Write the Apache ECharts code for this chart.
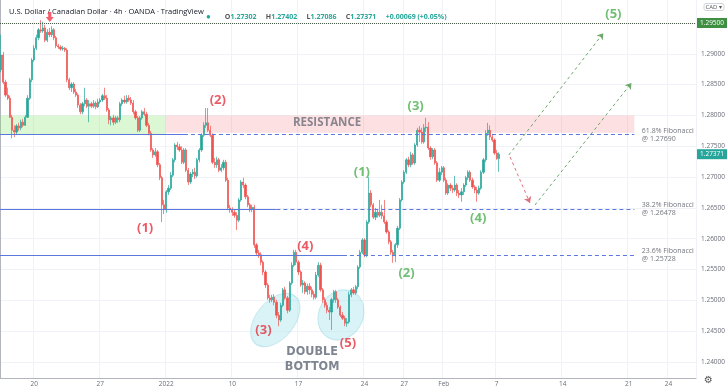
<!DOCTYPE html>
<html><head><meta charset="utf-8">
<script src="https://cdn.jsdelivr.net/npm/echarts@6/dist/echarts.min.js"></script>
<style>html,body{margin:0;padding:0;background:#fff}#c{width:728px;height:391px}</style>
</head><body><div id="c"></div>
<script>
// 4h candles: [open, close, low, high]
const ohlc = [
[1.2874,1.2898,1.2870,1.2931],[1.2898,1.2854,1.2851,1.2903],[1.2854,1.2833,1.2830,1.2858],[1.2833,1.2828,1.2825,1.2845],
[1.2828,1.2797,1.2796,1.2832],[1.2797,1.2776,1.2763,1.2801],[1.2776,1.2773,1.2765,1.2784],[1.2773,1.2783,1.2770,1.2786],
[1.2783,1.2780,1.2775,1.2788],[1.2780,1.2789,1.2776,1.2793],[1.2789,1.2784,1.2781,1.2794],[1.2784,1.2797,1.2783,1.2801],
[1.2797,1.2828,1.2796,1.2833],[1.2828,1.2858,1.2825,1.2861],[1.2858,1.2890,1.2854,1.2893],[1.2890,1.2909,1.2887,1.2914],
[1.2909,1.2926,1.2906,1.2931],[1.2926,1.2939,1.2922,1.2942],[1.2939,1.2937,1.2934,1.2955],[1.2937,1.2942,1.2934,1.2952],
[1.2942,1.2922,1.2919,1.2947],[1.2922,1.2935,1.2919,1.2940],[1.2935,1.2931,1.2927,1.2942],[1.2931,1.2939,1.2927,1.2945],
[1.2939,1.2926,1.2922,1.2942],[1.2926,1.2913,1.2909,1.2929],[1.2913,1.2911,1.2908,1.2916],[1.2911,1.2908,1.2905,1.2914],
[1.2908,1.2909,1.2905,1.2913],[1.2909,1.2906,1.2903,1.2911],[1.2906,1.2858,1.2854,1.2909],[1.2858,1.2845,1.2841,1.2861],
[1.2845,1.2851,1.2838,1.2854],[1.2851,1.2838,1.2835,1.2854],[1.2838,1.2833,1.2830,1.2843],[1.2833,1.2817,1.2812,1.2836],
[1.2817,1.2806,1.2802,1.2820],[1.2806,1.2819,1.2802,1.2822],[1.2819,1.2825,1.2815,1.2845],[1.2825,1.2815,1.2812,1.2828],
[1.2815,1.2819,1.2789,1.2825],[1.2819,1.2815,1.2812,1.2822],[1.2815,1.2820,1.2812,1.2825],[1.2820,1.2814,1.2810,1.2823],
[1.2814,1.2822,1.2812,1.2827],[1.2822,1.2825,1.2819,1.2828],[1.2825,1.2832,1.2822,1.2835],[1.2832,1.2828,1.2825,1.2845],
[1.2828,1.2809,1.2806,1.2833],[1.2809,1.2793,1.2786,1.2812],[1.2793,1.2796,1.2784,1.2799],[1.2796,1.2789,1.2784,1.2801],
[1.2789,1.2796,1.2786,1.2799],[1.2796,1.2793,1.2788,1.2799],[1.2793,1.2819,1.2789,1.2822],[1.2819,1.2825,1.2815,1.2828],
[1.2825,1.2822,1.2819,1.2832],[1.2822,1.2828,1.2819,1.2833],[1.2828,1.2825,1.2822,1.2833],[1.2825,1.2820,1.2817,1.2830],
[1.2820,1.2806,1.2802,1.2825],[1.2806,1.2796,1.2793,1.2809],[1.2796,1.2776,1.2773,1.2799],[1.2776,1.2796,1.2773,1.2799],
[1.2796,1.2806,1.2793,1.2809],[1.2806,1.2802,1.2799,1.2812],[1.2802,1.2784,1.2781,1.2806],[1.2784,1.2771,1.2768,1.2788],
[1.2771,1.2744,1.2741,1.2775],[1.2744,1.2736,1.2731,1.2747],[1.2736,1.2741,1.2733,1.2747],[1.2741,1.2720,1.2716,1.2744],
[1.2720,1.2699,1.2695,1.2723],[1.2699,1.2655,1.2627,1.2702],[1.2655,1.2647,1.2640,1.2663],[1.2647,1.2676,1.2642,1.2679],
[1.2676,1.2682,1.2671,1.2687],[1.2682,1.2703,1.2679,1.2708],[1.2703,1.2728,1.2700,1.2731],[1.2728,1.2752,1.2724,1.2755],
[1.2752,1.2749,1.2744,1.2757],[1.2749,1.2744,1.2741,1.2754],[1.2744,1.2724,1.2721,1.2750],[1.2724,1.2744,1.2721,1.2747],
[1.2744,1.2711,1.2708,1.2747],[1.2711,1.2692,1.2687,1.2715],[1.2692,1.2705,1.2689,1.2708],[1.2705,1.2708,1.2700,1.2713],
[1.2708,1.2702,1.2697,1.2715],[1.2702,1.2728,1.2699,1.2731],[1.2728,1.2744,1.2724,1.2747],[1.2744,1.2768,1.2741,1.2771],
[1.2768,1.2784,1.2765,1.2789],[1.2784,1.2788,1.2780,1.2812],[1.2788,1.2776,1.2773,1.2812],[1.2776,1.2768,1.2765,1.2783],
[1.2768,1.2724,1.2721,1.2771],[1.2724,1.2720,1.2715,1.2731],[1.2720,1.2728,1.2715,1.2733],[1.2728,1.2711,1.2708,1.2731],
[1.2711,1.2715,1.2708,1.2721],[1.2715,1.2724,1.2711,1.2728],[1.2724,1.2695,1.2692,1.2728],[1.2695,1.2650,1.2647,1.2699],
[1.2650,1.2647,1.2642,1.2655],[1.2647,1.2643,1.2637,1.2651],[1.2643,1.2638,1.2634,1.2648],[1.2638,1.2630,1.2614,1.2643],
[1.2630,1.2663,1.2627,1.2666],[1.2663,1.2692,1.2660,1.2695],[1.2692,1.2687,1.2682,1.2699],[1.2687,1.2668,1.2664,1.2690],
[1.2668,1.2655,1.2651,1.2671],[1.2655,1.2647,1.2643,1.2658],[1.2647,1.2651,1.2643,1.2655],[1.2651,1.2590,1.2585,1.2655],
[1.2590,1.2577,1.2572,1.2593],[1.2577,1.2574,1.2569,1.2582],[1.2574,1.2562,1.2557,1.2578],[1.2562,1.2546,1.2541,1.2565],
[1.2546,1.2525,1.2520,1.2549],[1.2525,1.2504,1.2501,1.2528],[1.2504,1.2501,1.2496,1.2509],[1.2501,1.2505,1.2497,1.2509],
[1.2505,1.2497,1.2492,1.2510],[1.2497,1.2476,1.2471,1.2501],[1.2476,1.2468,1.2458,1.2481],[1.2468,1.2492,1.2465,1.2496],
[1.2492,1.2517,1.2489,1.2520],[1.2517,1.2504,1.2501,1.2522],[1.2504,1.2484,1.2479,1.2507],[1.2484,1.2528,1.2481,1.2531],
[1.2528,1.2557,1.2525,1.2562],[1.2557,1.2578,1.2554,1.2582],[1.2578,1.2562,1.2557,1.2582],[1.2562,1.2546,1.2541,1.2565],
[1.2546,1.2525,1.2522,1.2549],[1.2525,1.2528,1.2512,1.2533],[1.2528,1.2514,1.2510,1.2531],[1.2514,1.2523,1.2509,1.2527],
[1.2523,1.2517,1.2510,1.2528],[1.2517,1.2510,1.2505,1.2522],[1.2510,1.2505,1.2501,1.2515],[1.2505,1.2541,1.2502,1.2546],
[1.2541,1.2557,1.2538,1.2562],[1.2557,1.2517,1.2514,1.2561],[1.2517,1.2501,1.2496,1.2520],[1.2501,1.2492,1.2488,1.2505],
[1.2492,1.2484,1.2479,1.2497],[1.2484,1.2481,1.2468,1.2489],[1.2481,1.2501,1.2452,1.2504],[1.2501,1.2514,1.2496,1.2517],
[1.2514,1.2501,1.2496,1.2517],[1.2501,1.2489,1.2486,1.2504],[1.2489,1.2476,1.2473,1.2492],[1.2476,1.2471,1.2468,1.2481],
[1.2471,1.2463,1.2458,1.2475],[1.2463,1.2465,1.2457,1.2471],[1.2465,1.2509,1.2462,1.2514],[1.2509,1.2517,1.2505,1.2520],
[1.2517,1.2512,1.2509,1.2522],[1.2512,1.2522,1.2509,1.2525],[1.2522,1.2554,1.2518,1.2557],[1.2554,1.2578,1.2551,1.2582],
[1.2578,1.2598,1.2575,1.2601],[1.2598,1.2574,1.2570,1.2601],[1.2574,1.2627,1.2570,1.2630],[1.2627,1.2674,1.2624,1.2700],
[1.2674,1.2655,1.2651,1.2679],[1.2655,1.2635,1.2632,1.2658],[1.2635,1.2643,1.2630,1.2650],[1.2643,1.2638,1.2634,1.2647],
[1.2638,1.2643,1.2635,1.2663],[1.2643,1.2637,1.2632,1.2655],[1.2637,1.2627,1.2624,1.2663],[1.2627,1.2611,1.2608,1.2630],
[1.2611,1.2595,1.2591,1.2614],[1.2595,1.2578,1.2574,1.2598],[1.2578,1.2574,1.2561,1.2582],[1.2574,1.2590,1.2562,1.2593],
[1.2590,1.2617,1.2585,1.2621],[1.2617,1.2663,1.2614,1.2666],[1.2663,1.2692,1.2660,1.2695],[1.2692,1.2708,1.2689,1.2711],
[1.2708,1.2728,1.2705,1.2731],[1.2728,1.2720,1.2716,1.2733],[1.2720,1.2736,1.2716,1.2741],[1.2736,1.2723,1.2720,1.2739],
[1.2723,1.2752,1.2720,1.2755],[1.2752,1.2776,1.2749,1.2780],[1.2776,1.2773,1.2757,1.2783],[1.2773,1.2757,1.2754,1.2780],
[1.2757,1.2780,1.2754,1.2786],[1.2780,1.2781,1.2773,1.2796],[1.2781,1.2747,1.2744,1.2789],[1.2747,1.2733,1.2728,1.2750],
[1.2733,1.2744,1.2729,1.2747],[1.2744,1.2723,1.2720,1.2747],[1.2723,1.2695,1.2692,1.2726],[1.2695,1.2708,1.2692,1.2715],
[1.2708,1.2715,1.2703,1.2718],[1.2715,1.2695,1.2692,1.2718],[1.2695,1.2674,1.2671,1.2699],[1.2674,1.2687,1.2671,1.2690],
[1.2687,1.2682,1.2677,1.2690],[1.2682,1.2679,1.2674,1.2687],[1.2679,1.2687,1.2676,1.2702],[1.2687,1.2674,1.2669,1.2690],
[1.2674,1.2671,1.2666,1.2679],[1.2671,1.2676,1.2660,1.2682],[1.2676,1.2687,1.2671,1.2690],[1.2687,1.2699,1.2684,1.2702],
[1.2699,1.2708,1.2695,1.2711],[1.2708,1.2695,1.2692,1.2711],[1.2695,1.2684,1.2681,1.2699],[1.2684,1.2679,1.2674,1.2687],
[1.2679,1.2674,1.2660,1.2684],[1.2674,1.2682,1.2671,1.2686],[1.2682,1.2708,1.2679,1.2711],[1.2708,1.2728,1.2705,1.2731],
[1.2728,1.2771,1.2724,1.2776],[1.2771,1.2776,1.2767,1.2788],[1.2776,1.2765,1.2760,1.2784],[1.2765,1.2760,1.2757,1.2770],
[1.2760,1.2739,1.2736,1.2763],[1.2739,1.2730,1.2728,1.2744],[1.27302,1.27371,1.27086,1.27402]
];
const slotCount = 316; // candle slots incl. empty future space
const tickIdx  = [15,45,75,105,135,165,183,201,225,255,285,303];
const tickText = ['20','27','2022','10','17','24','27','Feb','7','14','21','24'];
const priceTicks = [1.24,1.245,1.25,1.255,1.26,1.265,1.27,1.275,1.28,1.285,1.29,1.295];
const lastPrice = 1.27371;
const topLevel = 1.295;
const fibLevels = [1.2769, 1.26478, 1.25728];
const fibNames  = ['61.8% Fibonacci', '38.2% Fibonacci', '23.6% Fibonacci'];
const fibSolidEnd = [83.5, 125.5, 155.7];   // slot where solid part ends
const fibEnd = 288;
const supportZone = [0, 75.4, 1.2800, 1.2769];
const resistZone  = [75.4, 288, 1.2800, 1.2772];
const redWaves   = [['(1)',65.9,1.26174],['(2)',98.9,1.28251],['(3)',119.6,1.24519],['(4)',138.6,1.25882],['(5)',158.0,1.24308]];
const greenWaves = [['(1)',164.3,1.27082],['(2)',184.6,1.25444],['(3)',188.7,1.28153],['(4)',217.1,1.26336],['(5)',278.5,1.29646]];
const bottoms = [[125.0,1.24681],[154.8,1.24762]];
const projUp1 = [[231.0,1.27358],[273.9,1.29333]];
const projDown = [[231.6,1.27326],[240.6,1.26580]];
const projUp2 = [[242.9,1.26547],[286.7,1.28527]];
const topArrow = [22.6,1.29597];
const resistanceLabel = [148.5,1.27877];
const doubleBottomLabel = [141.7,1.24040];

const categories = [];
for (let i = 0; i < slotCount; i++) categories.push(String(i));
const FONT = 'Open Sans';
const dec = (v) => v.toFixed(5);

const chart = echarts.init(document.getElementById('c'), null, {renderer:'canvas'});
const fibSolid = fibLevels.map((p,k)=>[{coord:[0,p]},{coord:[fibSolidEnd[k],p]}]);
const fibDash  = fibLevels.map((p,k)=>[{coord:[fibSolidEnd[k],p]},{coord:[fibEnd,p]}]);
const boxLabel = (txt,bg)=>({show:true, position:'end', distance:1, formatter:txt, color:'#fff', backgroundColor:bg, padding:[2,3,1,3], fontSize:6.5, fontFamily:FONT, opacity:1});

chart.setOption({
  animation:false,
  backgroundColor:'#ffffff',
  textStyle:{fontFamily:FONT},
  title:[
    {left:4, top:3, text:'U.S. Dollar / Canadian Dollar · 4h · OANDA · TradingView',
     textStyle:{fontSize:7.5, fontWeight:'normal', color:'#131722', fontFamily:FONT}},
    {left:201, top:3, text:'{d|●}   {k|O}{v|1.27302}  {k|H}{v|1.27402}  {k|L}{v|1.27086}  {k|C}{v|1.27371}  {v|+0.00069 (+0.05%)}',
     textStyle:{rich:{d:{color:'#26a69a',fontSize:8},k:{color:'#555',fontSize:7,fontFamily:FONT},v:{color:'#26a69a',fontSize:7,fontFamily:FONT}}}},
    {right:4, top:3, text:'CAD ▾', textStyle:{fontSize:6, fontWeight:'normal', color:'#555', fontFamily:FONT},
     borderColor:'#d1d4dc', borderWidth:1, borderRadius:2, padding:[1,2]},
    {right:10, bottom:1, text:'⚙', textStyle:{fontSize:10, fontWeight:'normal', color:'#555', fontFamily:'DejaVu Sans'}}
  ],
  grid:{left:0, right:28, top:0, bottom:13, containLabel:false},
  xAxis:[
    {type:'category', data:categories, boundaryGap:true,
     axisLine:{lineStyle:{color:'#b2b5be'}}, axisTick:{show:false},
     axisLabel:{interval:(i)=>tickIdx.includes(i), formatter:(v,i)=>tickText[tickIdx.indexOf(Number(v))],
                fontSize:6.5, color:'#6a6d78', margin:3, fontFamily:FONT},
     splitLine:{show:true, interval:(i)=>tickIdx.includes(i), lineStyle:{color:'#f0f2f7', width:1}}},
    {type:'value', min:0, max:slotCount, show:false}
  ],
  yAxis:{type:'value', position:'right', min:1.2374, max:1.29873, scale:true,
    axisLine:{show:true, lineStyle:{color:'#b2b5be'}}, axisTick:{show:false, customValues:priceTicks},
    axisLabel:{customValues:priceTicks, formatter:dec, fontSize:6.5, color:'#6a6d78', margin:5, fontFamily:FONT},
    splitLine:{show:true, lineStyle:{color:'#f0f2f7'}}},
  series:[
    {type:'line', xAxisIndex:1, data:[], z:1, silent:true,
     markArea:{silent:true, data:[
       [{coord:[supportZone[0],supportZone[2]], itemStyle:{color:'rgba(130,225,100,0.28)'}},{coord:[supportZone[1],supportZone[3]]}],
       [{coord:[resistZone[0],resistZone[2]], itemStyle:{color:'rgba(242,70,85,0.17)'}},{coord:[resistZone[1],resistZone[3]]}]
     ]}},
    {type:'scatter', xAxisIndex:1, z:1, silent:true, symbol:'circle',
     data:[{value:bottoms[0], symbolSize:[62,38], symbolRotate:50},{value:bottoms[1], symbolSize:[52,44], symbolRotate:60}],
     itemStyle:{color:'rgba(175,230,238,0.6)', borderColor:'rgba(130,205,220,0.5)', borderWidth:1}},
    {type:'line', xAxisIndex:1, data:[], z:2, silent:true,
     markLine:{silent:true, symbol:['none','none'], animation:false, label:{show:false},
       lineStyle:{color:'#5b79dd', width:1, type:'solid', opacity:1}, data:fibSolid}},
    {type:'line', xAxisIndex:1, data:[], z:2, silent:true,
     markLine:{silent:true, symbol:['none','none'], animation:false, label:{show:false},
       lineStyle:{color:'#5b79dd', width:1, type:[4,3], opacity:1}, data:fibDash}},
    {type:'line', xAxisIndex:1, data:[], z:5, silent:true,
     markLine:{silent:true, symbol:['none','none'], animation:false,
       lineStyle:{color:'#4a5a4a', width:1, type:'dotted', opacity:1},
       data:[[{coord:[0,topLevel], label:boxLabel(dec(topLevel),'#3f8f43')},{coord:[slotCount,topLevel]}]]}},
    {type:'line', xAxisIndex:1, data:[], z:5, silent:true,
     markLine:{silent:true, symbol:['none','none'], animation:false,
       lineStyle:{color:'rgba(38,166,154,0)', width:1, opacity:1},
       data:[[{coord:[0,lastPrice], label:boxLabel(dec(lastPrice),'#26a69a')},{coord:[slotCount,lastPrice]}]]}},
    {type:'candlestick', data:ohlc, z:3, barWidth:1.7,
     itemStyle:{color:'#26a69a', color0:'#ef5350', borderColor:'#26a69a', borderColor0:'#ef5350', borderWidth:0.7}},
    {type:'line', xAxisIndex:1, data:[], z:6, silent:true,
     markLine:{silent:true, symbol:['none','arrow'], symbolSize:6, animation:false, label:{show:false},
       lineStyle:{color:'#6da86d', width:1, type:[3,3], opacity:1},
       itemStyle:{color:'#6da86d'},
       data:[[{coord:projUp1[0]},{coord:projUp1[1]}],[{coord:projUp2[0]},{coord:projUp2[1]}]]}},
    {type:'line', xAxisIndex:1, data:[], z:6, silent:true,
     markLine:{silent:true, symbol:['none','arrow'], symbolSize:6, animation:false, label:{show:false},
       lineStyle:{color:'#e0707a', width:1, type:[3,3], opacity:1},
       itemStyle:{color:'#e0707a'},
       data:[[{coord:projDown[0]},{coord:projDown[1]}]]}},
    {type:'scatter', xAxisIndex:1, z:8, silent:true, symbolSize:1, itemStyle:{color:'transparent'},
     data:[
       ...redWaves.map(w=>({value:[w[1],w[2]], label:{show:true, position:'inside', formatter:w[0], color:'#e5323f', fontSize:13, fontWeight:'bold', fontFamily:FONT}})),
       ...greenWaves.map(w=>({value:[w[1],w[2]], label:{show:true, position:'inside', formatter:w[0], color:'#4caf50', fontSize:13, fontWeight:'bold', fontFamily:FONT}})),
       {value:resistanceLabel, label:{show:true, position:'inside', formatter:'RESISTANCE', color:'#6b6e79', fontSize:11.5, fontWeight:'bold', fontFamily:FONT}},
       {value:doubleBottomLabel, label:{show:true, position:'inside', formatter:'DOUBLE\nBOTTOM', lineHeight:15, color:'#5f6675', fontSize:12.5, fontWeight:'bold', fontFamily:'DejaVu Sans Condensed'}},
       ...fibLevels.map((p,k)=>({value:[291.2,p], label:{show:true, position:'right', distance:0, formatter:fibNames[k]+'\n@ '+dec(p), color:'#50535e', fontSize:7, lineHeight:8, fontFamily:FONT, align:'left'}}))
     ]},
    {type:'scatter', xAxisIndex:1, z:8, silent:true,
     symbol:'path://M3,0 L7,0 L7,5 L10,5 L5,10 L0,5 L3,5 Z', symbolSize:[8,10],
     itemStyle:{color:'#f23645'}, data:[topArrow]}
  ]
});
</script>
</body></html>
